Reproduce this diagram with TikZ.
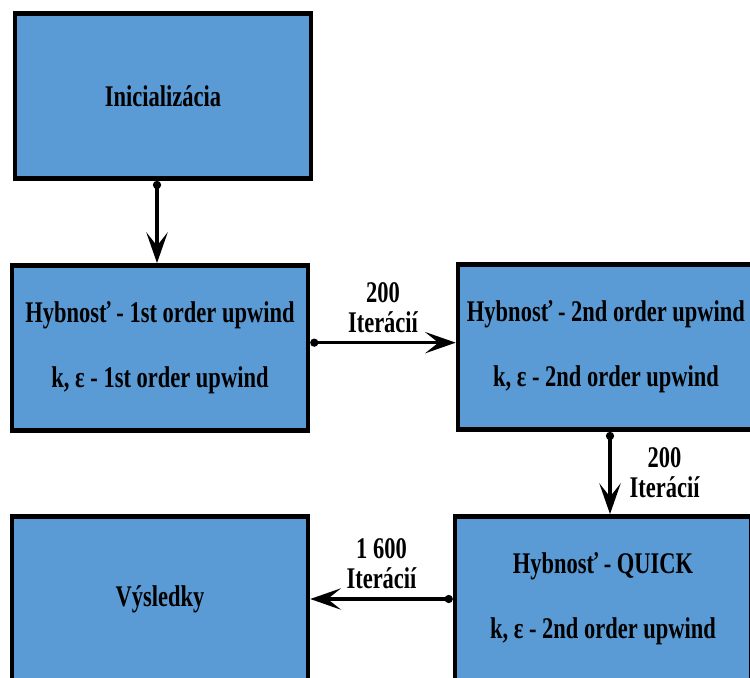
\documentclass[tikz,border=0pt]{standalone}
\usepackage{fontspec}
\setmainfont{Liberation Serif}[FakeStretch=0.75]
\usetikzlibrary{arrows.meta}
\definecolor{boxblue}{RGB}{91,155,213}

\begin{document}
\begin{tikzpicture}[x=0.75pt, y=-0.75pt,
    box/.style={draw=black, line width=3.4pt, fill=boxblue, minimum width=222pt, minimum height=124pt,
                align=center, font=\fontsize{22.5}{24}\selectfont\bfseries},
    arr/.style={line width=2.7pt, {Circle[length=6pt]}-{Stealth[length=23pt,width=16pt,inset=10pt]}},
    lbl/.style={align=center, font=\fontsize{22.5}{22.5}\selectfont\bfseries}]

    \clip (0,0) rectangle (750,678);

    \node[box] (init) at (163,96) {Inicializácia};
    \node[box] (first) at (160,348) {Hybnosť - 1st order upwind\\[24.75pt]k, ε - 1st order upwind};
    \node[box] (second) at (606,347) {Hybnosť - 2nd order upwind\\[24.75pt]k, ε - 2nd order upwind};
    \node[box] (quick) at (603,599) {Hybnosť - QUICK\\[24.75pt]k, ε - 2nd order upwind};
    \node[box] (result) at (160,599) {Výsledky};

    \draw[arr] ([xshift=-2.25pt]first.north |- init.south) -- ([xshift=-2.25pt]first.north);
    \draw[arr] ([yshift=4pt]first.east) -- ([yshift=4pt]first.east -| second.west)
        node[lbl, midway, above=3pt] {200\\Iterácií};
    \draw[arr] ([xshift=3pt]second.south) -- ([xshift=3pt]second.south |- quick.north)
        node[lbl, midway, right=10pt] {200\\Iterácií};
    \draw[arr] (quick.west) -- (quick.west -| result.east)
        node[lbl, midway, above=3pt] {1 600\\Iterácií};

\end{tikzpicture}
\end{document}
